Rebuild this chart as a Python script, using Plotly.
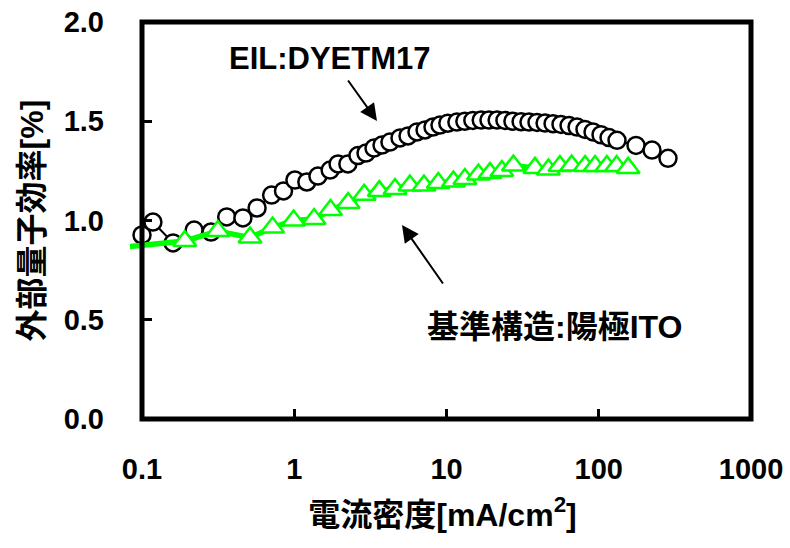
import plotly.graph_objects as go

# ---- data ----
eil_x = [0.1, 0.118, 0.16, 0.22, 0.284, 0.36, 0.46, 0.57, 0.71, 0.85, 1.01, 1.21, 1.43, 1.72,
         1.94, 2.25, 2.62, 2.96, 3.34, 3.77, 4.25, 4.95, 5.59, 6.4, 7.23, 8.15, 9.06, 10.2,
         11.7, 13.2, 14.9, 16.9, 19.0, 21.5, 24.2, 27.3, 30.9, 34.8, 39.3, 44.4, 50.1, 56.5,
         63.8, 72.0, 81.2, 91.7, 103.5, 116.8, 131.8, 175.7, 223.8, 285.0]
eil_y = [0.927, 0.992, 0.887, 0.952, 0.942, 1.018, 1.013, 1.063, 1.128, 1.149, 1.204, 1.194, 1.224, 1.254,
         1.285, 1.285, 1.327, 1.340, 1.365, 1.380, 1.395, 1.416, 1.426, 1.446, 1.456, 1.471, 1.481, 1.490,
         1.496, 1.500, 1.504, 1.506, 1.506, 1.506, 1.504, 1.500, 1.498, 1.496, 1.494, 1.491, 1.488, 1.484,
         1.478, 1.471, 1.459, 1.446, 1.432, 1.418, 1.404, 1.378, 1.355, 1.313]

ref_x = [0.075, 0.191, 0.315, 0.512, 0.72, 0.99, 1.35, 1.73, 2.26, 2.88, 3.62, 4.59, 5.75, 7.11,
         8.83, 11.1, 13.2, 16.2, 19.3, 23.1, 27.5, 38.1, 46.7, 55.6, 66.4, 81.3, 94.5, 113.0,
         131.0, 156.0]
ref_y = [0.865, 0.897, 0.947, 0.914, 0.965, 1.000, 1.007, 1.053, 1.088, 1.130, 1.148, 1.159, 1.176, 1.176,
         1.189, 1.196, 1.209, 1.232, 1.239, 1.249, 1.277, 1.265, 1.257, 1.274, 1.277, 1.274, 1.274, 1.274,
         1.274, 1.265]

x_ticks = [0.1, 1, 10, 100, 1000]
x_tick_labels = ["0.1", "1", "10", "100", "1000"]
y_ticks = [0.0, 0.5, 1.0, 1.5, 2.0]
y_tick_labels = ["0.0", "0.5", "1.0", "1.5", "2.0"]

FONT = "Liberation Sans, Arial, Noto Sans CJK JP, sans-serif"
GREEN = "#00FF00"

fig = go.Figure()

fig.add_trace(go.Scatter(
    x=eil_x, y=eil_y, mode="lines+markers", name="EIL:DYETM17",
    line=dict(color="black", width=2),
    marker=dict(symbol="circle", size=17, color="white", line=dict(color="black", width=2.5)),
    cliponaxis=False,
))
fig.add_trace(go.Scatter(
    x=ref_x, y=ref_y, mode="lines", name="基準構造:陽極ITO",
    line=dict(color=GREEN, width=5.5), showlegend=False,
))
fig.add_trace(go.Scatter(
    x=ref_x[1:], y=ref_y[1:], mode="markers", name="基準構造:陽極ITO",
    marker=dict(symbol="triangle-up", size=20, color="white", line=dict(color=GREEN, width=2.5)),
))

# frame around the axes
fig.add_shape(type="rect", xref="x", yref="y", x0=x_ticks[0], x1=x_ticks[-1], y0=y_ticks[0], y1=y_ticks[-1],
              line=dict(color="black", width=5), layer="above")

# layout geometry
L, R, T, B = 130, 35, 18, 125
W, H = 790, 548
pw, ph = W - L - R, H - T - B
dec = 152.25
xr0 = -1 - 12 / dec
xr1 = 3 + 4 / dec
yscale = 198.5
yr0 = -4 / yscale
yr1 = 2 + 4 / yscale

fig.update_layout(
    width=W, height=H,
    margin=dict(l=L, r=R, t=T, b=B, autoexpand=False),
    paper_bgcolor="white", plot_bgcolor="white",
    showlegend=False,
    font=dict(family=FONT, color="black", size=28, weight="bold"),
    xaxis=dict(
        type="log", range=[xr0, xr1],
        tickmode="array", tickvals=x_ticks, ticktext=x_tick_labels,
        ticks="inside", ticklen=10, tickwidth=2.5, tickcolor="black",
        showgrid=False, zeroline=False, showline=False,
        anchor="free", position=4 / ph,
        ticklabelstandoff=30,
        tickfont=dict(size=29, family=FONT, weight="bold"),
        title=dict(text="電流密度[mA/cm<sup>2</sup>]", font=dict(size=32, family=FONT, weight="bold"), standoff=19),
    ),
    yaxis=dict(
        range=[yr0, yr1],
        tickmode="array", tickvals=y_ticks, ticktext=y_tick_labels,
        ticks="inside", ticklen=9, tickwidth=2.5, tickcolor="black",
        showgrid=False, zeroline=False, showline=False,
        anchor="free", position=12 / pw,
        ticklabelstandoff=38,
        tickfont=dict(size=29, family=FONT, weight="bold"),
        title=dict(text="外部量子効率[%]", font=dict(size=32, family=FONT, weight="bold"), standoff=9),
    ),
)

def px_to_logx(px):
    return -1 + (px - 142) / dec

def px_to_y(py):
    return (419 - py) / yscale

fig.add_annotation(x=px_to_logx(329.5), y=px_to_y(58), xref="x", yref="y", text="EIL:DYETM17",
                   showarrow=False, font=dict(size=31, family=FONT, weight="bold"))
fig.add_annotation(x=px_to_logx(554), y=px_to_y(327), xref="x", yref="y", text="基準構造:陽極ITO",
                   showarrow=False, font=dict(size=32, family=FONT, weight="bold"))
fig.add_annotation(x=px_to_logx(377), y=px_to_y(121), xref="x", yref="y", text="",
                   showarrow=True, ax=-30, ay=-42, arrowhead=2, arrowsize=1.7, arrowwidth=2, arrowcolor="black",
                   standoff=0)
fig.add_annotation(x=px_to_logx(402), y=px_to_y(225), xref="x", yref="y", text="",
                   showarrow=True, ax=42, ay=60, arrowhead=2, arrowsize=1.7, arrowwidth=2, arrowcolor="black",
                   standoff=0)

fig.write_html("out.html", config={"displayModeBar": False},
               post_script="document.body.style.margin='0';document.body.style.padding='0';")
